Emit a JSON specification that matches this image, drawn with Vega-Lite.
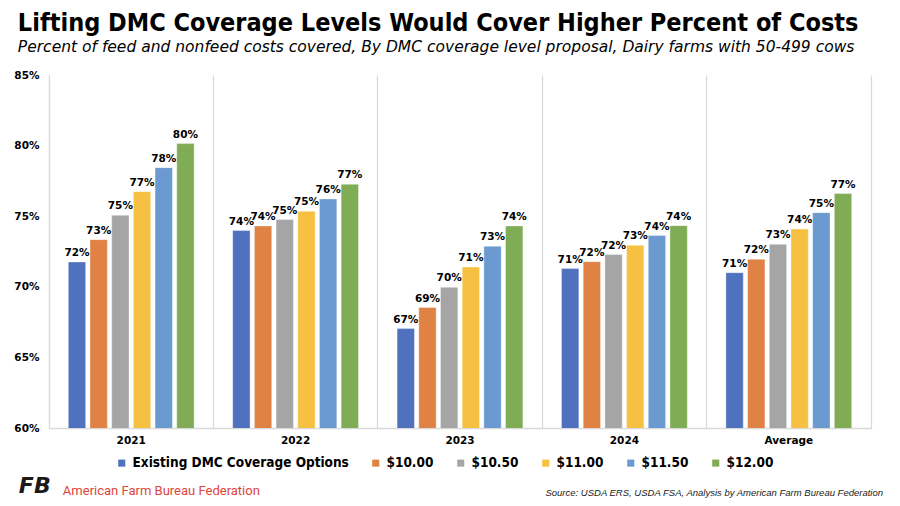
{
  "$schema": "https://vega.github.io/schema/vega-lite/v6.json",
  "padding": {"left": 13, "top": 10, "right": 10, "bottom": 2},
  "background": "white",
  "config": {
    "font": "DejaVu Sans",
    "view": {"stroke": null},
    "concat": {"spacing": 0}
  },
  "title": {
    "text": "Source: USDA ERS, USDA FSA, Analysis by American Farm Bureau Federation",
    "orient": "bottom",
    "anchor": "end",
    "frame": "group",
    "font": "Liberation Sans",
    "fontWeight": "normal",
    "fontStyle": "italic",
    "fontSize": 9.5,
    "color": "#222222",
    "dx": 12,
    "offset": -10
  },
  "resolve": {"legend": {"color": "independent"}},
  "vconcat": [
    {
      "title": {
        "text": "American Farm Bureau Federation",
        "orient": "bottom",
        "anchor": "start",
        "frame": "bounds",
        "font": "Roboto",
        "fontWeight": "normal",
        "fontSize": 13,
        "color": "#E0453C",
        "dx": 49,
        "offset": -12
      },
      "resolve": {"legend": {"color": "independent"}},
      "vconcat": [
        {
          "title": {
            "text": "FB",
            "orient": "bottom",
            "anchor": "start",
            "frame": "bounds",
            "font": "DejaVu Sans",
            "fontWeight": "bold",
            "fontStyle": "italic",
            "fontSize": 22,
            "color": "#1a1a1a",
            "dx": 5,
            "offset": 6
          },
          "resolve": {"legend": {"color": "independent"}},
          "vconcat": [
            {
              "title": {
                "text": "Lifting DMC Coverage Levels Would Cover Higher Percent of Costs",
                "subtitle": "Percent of feed and nonfeed costs covered, By DMC coverage level proposal, Dairy farms with 50-499 cows",
                "anchor": "start",
                "frame": "bounds",
                "dx": 4,
                "font": "DejaVu Sans Condensed",
                "fontWeight": "bold",
                "fontSize": 25,
                "color": "#000000",
                "subtitleFont": "DejaVu Sans",
                "subtitleFontStyle": "italic",
                "subtitleFontSize": 15.5,
                "subtitleColor": "#000000",
                "subtitlePadding": 4,
                "offset": 15
              },
              "width": 822,
              "height": 353,
              "data": {
                "values": [
                  {"group": "2021", "option": "Existing DMC Coverage Options", "pct": 0.7176},
                  {"group": "2021", "option": "$10.00", "pct": 0.7334},
                  {"group": "2021", "option": "$10.50", "pct": 0.7506},
                  {"group": "2021", "option": "$11.00", "pct": 0.7674},
                  {"group": "2021", "option": "$11.50", "pct": 0.7844},
                  {"group": "2021", "option": "$12.00", "pct": 0.8014},
                  {"group": "2022", "option": "Existing DMC Coverage Options", "pct": 0.7398},
                  {"group": "2022", "option": "$10.00", "pct": 0.7431},
                  {"group": "2022", "option": "$10.50", "pct": 0.7476},
                  {"group": "2022", "option": "$11.00", "pct": 0.7535},
                  {"group": "2022", "option": "$11.50", "pct": 0.7622},
                  {"group": "2022", "option": "$12.00", "pct": 0.7726},
                  {"group": "2023", "option": "Existing DMC Coverage Options", "pct": 0.6704},
                  {"group": "2023", "option": "$10.00", "pct": 0.6853},
                  {"group": "2023", "option": "$10.50", "pct": 0.6996},
                  {"group": "2023", "option": "$11.00", "pct": 0.7140},
                  {"group": "2023", "option": "$11.50", "pct": 0.7287},
                  {"group": "2023", "option": "$12.00", "pct": 0.7431},
                  {"group": "2024", "option": "Existing DMC Coverage Options", "pct": 0.7129},
                  {"group": "2024", "option": "$10.00", "pct": 0.7178},
                  {"group": "2024", "option": "$10.50", "pct": 0.7228},
                  {"group": "2024", "option": "$11.00", "pct": 0.7294},
                  {"group": "2024", "option": "$11.50", "pct": 0.7363},
                  {"group": "2024", "option": "$12.00", "pct": 0.7433},
                  {"group": "Average", "option": "Existing DMC Coverage Options", "pct": 0.7100},
                  {"group": "Average", "option": "$10.00", "pct": 0.7195},
                  {"group": "Average", "option": "$10.50", "pct": 0.7301},
                  {"group": "Average", "option": "$11.00", "pct": 0.7409},
                  {"group": "Average", "option": "$11.50", "pct": 0.7525},
                  {"group": "Average", "option": "$12.00", "pct": 0.7660}
                ]
              },
              "encoding": {
                "x": {
                  "field": "group",
                  "type": "nominal",
                  "sort": null,
                  "scale": {"paddingInner": 0, "paddingOuter": 0},
                  "axis": {
                    "title": null,
                    "labelAngle": 0,
                    "labelFont": "DejaVu Sans",
                    "labelFontWeight": "bold",
                    "labelFontSize": 10.5,
                    "labelColor": "#000000",
                    "labelPadding": 7,
                    "ticks": false,
                    "domainColor": "#D9D9D9",
                    "domainWidth": 1.5,
                    "grid": true,
                    "bandPosition": 0,
                    "gridColor": "#D9D9D9",
                    "gridWidth": 1.2
                  }
                },
                "xOffset": {
                  "field": "option",
                  "type": "nominal",
                  "sort": ["Existing DMC Coverage Options", "$10.00", "$10.50", "$11.00", "$11.50", "$12.00"],
                  "scale": {"paddingInner": 0.2, "paddingOuter": 0.89}
                },
                "y": {
                  "field": "pct",
                  "type": "quantitative",
                  "scale": {"domain": [0.6, 0.85], "zero": false, "nice": false}
                }
              },
              "layer": [
                {
                  "mark": {"type": "bar", "clip": true, "stroke": "#ffffff", "strokeWidth": 0.6, "strokeOpacity": 0.6},
                  "encoding": {
                    "y": {
                      "field": "pct",
                      "type": "quantitative",
                      "scale": {"domain": [0.6, 0.85], "zero": false, "nice": false},
                      "axis": {
                        "title": null,
                        "values": [0.6, 0.65, 0.7, 0.75, 0.8, 0.85],
                        "format": ".0%",
                        "labelFont": "DejaVu Sans",
                        "labelFontWeight": "bold",
                        "labelFontSize": 10.5,
                        "labelColor": "#000000",
                        "labelPadding": 10,
                        "ticks": false,
                        "grid": false,
                        "domainColor": "#D9D9D9",
                        "domainWidth": 1.2
                      }
                    },
                    "color": {
                      "field": "option",
                      "type": "nominal",
                      "sort": ["Existing DMC Coverage Options", "$10.00", "$10.50", "$11.00", "$11.50", "$12.00"],
                      "scale": {
                        "domain": ["Existing DMC Coverage Options", "$10.00", "$10.50", "$11.00", "$11.50", "$12.00"],
                        "range": ["#4F71BE", "#DF8244", "#A5A5A5", "#F6C142", "#6A9ACF", "#7FAC55"]
                      },
                      "legend": {
                        "title": null,
                        "orient": "none",
                        "legendX": 66,
                        "legendY": 381,
                        "direction": "horizontal",
                        "symbolType": "square",
                        "symbolSize": 50,
                        "symbolStrokeWidth": 0,
                        "labelFont": "DejaVu Sans Condensed",
                        "labelFontWeight": "bold",
                        "labelFontSize": 13.5,
                        "labelColor": "#000000",
                        "labelLimit": 400,
                        "labelOffset": 4,
                        "columnPadding": 20
                      }
                    }
                  }
                },
                {
                  "mark": {"type": "text", "baseline": "bottom", "dy": -4, "font": "DejaVu Sans", "fontWeight": "bold", "fontSize": 10.5, "color": "#000000"},
                  "encoding": {
                    "y": {
                      "field": "pct",
                      "type": "quantitative",
                      "scale": {"domain": [0.6, 0.85], "zero": false, "nice": false},
                      "axis": {
                        "orient": "right",
                        "title": null,
                        "labels": false,
                        "ticks": false,
                        "grid": false,
                        "domainColor": "#D9D9D9",
                        "domainWidth": 1.2
                      }
                    },
                    "text": {"field": "pct", "type": "quantitative", "format": ".0%"}
                  }
                }
              ],
              "resolve": {"axis": {"y": "independent"}}
            }
          ]
        }
      ]
    }
  ]
}
